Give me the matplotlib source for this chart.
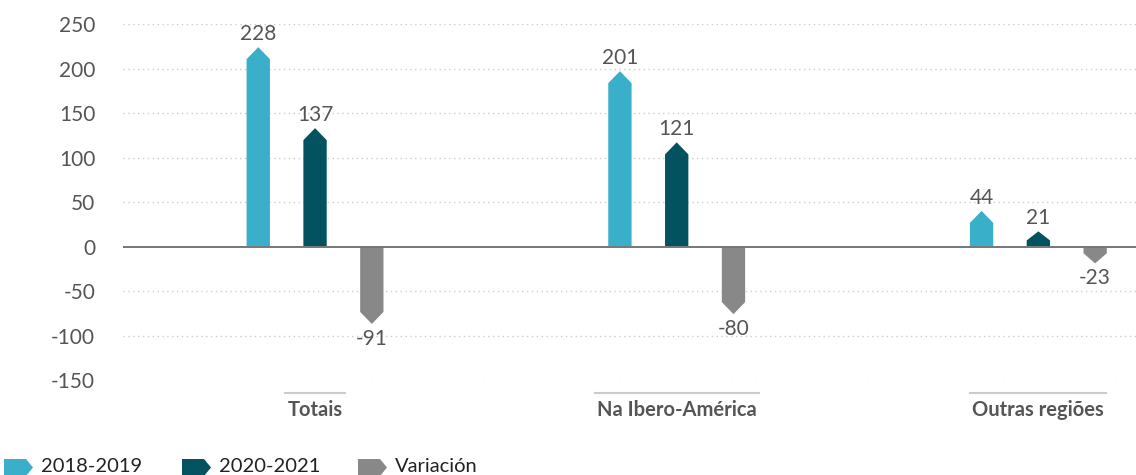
import matplotlib.pyplot as plt
import matplotlib.transforms as mtransforms
from matplotlib.patches import Polygon
from matplotlib.lines import Line2D
import numpy as np

# data
categories = ['Totais', 'Na Ibero-América', 'Outras regiões']
series_names = ['2018-2019', '2020-2021', 'Variación']
values_1819 = [228, 201, 44]
values_2021 = [137, 121, 21]
values_var = [-91, -80, -23]

colors = ['#3AAFC9', '#02535F', '#888888']
plt.rcParams['font.family'] = ['Lato', 'DejaVu Sans']
plt.rcParams['axes.unicode_minus'] = False

W, H = 1136, 475
fig = plt.figure(figsize=(W / 100, H / 100), dpi=100)
ax = fig.add_axes([123 / W, 1 - 380 / H, 1 - 123 / W, (380 - 24) / H])

ax.set_xlim(-0.531, 2.270)
ax.set_ylim(-150, 250)
ax.set_yticks(np.arange(-150, 251, 50))
ax.set_xticks([])
ax.tick_params(axis='y', length=0, pad=20, labelsize=15, labelcolor='#555555')
for s in ax.spines.values():
    s.set_visible(False)

# dotted grid + zero line
for yv in ax.get_yticks():
    if yv == 0:
        ax.axhline(0, color='#777777', lw=1.4, zorder=3)
    else:
        ax.axhline(yv, color='#cccccc', lw=1, ls=(0, (1, 2.5)), zorder=0)

x = np.arange(len(categories))
width = 0.0645
offsets = [-0.157, 0, 0.157]
tip = 13.5   # height of the pointed end, data units
inset = 4

for series, off, col in zip([values_1819, values_2021, values_var], offsets, colors):
    for xi, v in zip(x + off, series):
        sgn = 1 if v >= 0 else -1
        end = v - sgn * inset
        shoulder = end - sgn * min(tip, abs(end) * 0.6)
        verts = [(xi - width / 2, 0), (xi - width / 2, shoulder), (xi, end),
                 (xi + width / 2, shoulder), (xi + width / 2, 0)]
        ax.add_patch(Polygon(verts, closed=True, facecolor=col, edgecolor='none', zorder=2))
        if v >= 0:
            ax.annotate(str(v), (xi, end), xytext=(0, 7), textcoords='offset pixels',
                        ha='center', va='baseline', fontsize=15, color='#555555')
        else:
            ax.annotate(str(v), (xi, end), xytext=(0, -5), textcoords='offset pixels',
                        ha='center', va='top', fontsize=15, color='#555555')

# category labels with thin line above
trans = mtransforms.blended_transform_factory(ax.transData, ax.transAxes)
cat_texts = []
for xi, c in zip(x, categories):
    t = ax.text(xi, -30 / 356, c, transform=trans, ha='center', va='center',
                fontsize=14.5, fontweight='bold', color='#555555')
    cat_texts.append(t)

fig.canvas.draw()
renderer = fig.canvas.get_renderer()
for t in cat_texts:
    bb = t.get_window_extent(renderer)
    yline = 1 - 393 / H
    fig.add_artist(Line2D([(bb.x0 - 2) / W, (bb.x1 + 2) / W], [yline, yline],
                          transform=fig.transFigure, color='#cccccc', lw=1.5))

# legend: right-pointing tags
leg_x = [4, 182, 358]
for lx, name, col in zip(leg_x, series_names, colors):
    top, bot = 459, 476
    mid = (top + bot) / 2
    pts = [(lx, top), (lx + 22, top), (lx + 29, mid), (lx + 22, bot), (lx, bot)]
    pts = [(px / W, 1 - py / H) for px, py in pts]
    fig.add_artist(Polygon(pts, closed=True, transform=fig.transFigure,
                           facecolor=col, edgecolor='none'))
    fig.text((lx + 37) / W, 1 - 467 / H, name, ha='left', va='center',
             fontsize=14.5, color='#222222')

fig.savefig('out.png', dpi=100)
